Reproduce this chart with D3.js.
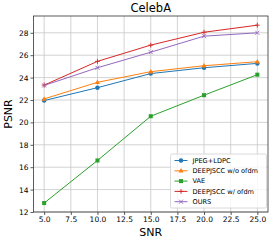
<!DOCTYPE html>
<html><head><meta charset="utf-8">
<script src="https://cdn.jsdelivr.net/npm/d3@7"></script>
<style>body{margin:0;background:#fff}svg{display:block}text{font-family:"DejaVu Sans",sans-serif;fill:#000}</style>
</head><body><div id="chart"></div>
<script>
const snr = [5, 10, 15, 20, 25];
const jpegLdpc = [21.95, 23.1, 24.36, 24.88, 25.27];
const deepNoOfdm = [22.1, 23.58, 24.53, 25.06, 25.42];
const vae = [12.8, 16.6, 20.55, 22.43, 24.26];
const deepOfdm = [23.33, 25.45, 26.9, 28.05, 28.68];
const ours = [23.3, 24.88, 26.27, 27.7, 28.0];
const xTicks = [5, 7.5, 10, 12.5, 15, 17.5, 20, 22.5, 25];
const yTicks = [12, 14, 16, 18, 20, 22, 24, 26, 28];
const seriesNames = ["JPEG+LDPC", "DEEPJSCC w/o ofdm", "VAE", "DEEPJSCC w/ ofdm", "OURS"];
const seriesData = [jpegLdpc, deepNoOfdm, vae, deepOfdm, ours];
const colors = ["#1f77b4", "#ff7f0e", "#2ca02c", "#d62728", "#9467bd"];
const markers = ["circle", "triangle", "square", "plus", "x"];

const W = 277, H = 240;
const m = {l: 33.5, r: 9, t: 16, b: 28};
const svg = d3.select("#chart").append("svg").attr("width", W).attr("height", H);
const x = d3.scaleLinear().domain([4, 26]).range([m.l, W - m.r]);
const y = d3.scaleLinear().domain([12, 29.5]).range([H - m.b, m.t]);

// grid
const g = svg.append("g");
xTicks.forEach(t => g.append("line").attr("x1", x(t)).attr("x2", x(t)).attr("y1", m.t).attr("y2", H - m.b).attr("stroke", "#c8c8c8").attr("stroke-width", 0.8));
yTicks.forEach(t => g.append("line").attr("y1", y(t)).attr("y2", y(t)).attr("x1", m.l).attr("x2", W - m.r).attr("stroke", "#c8c8c8").attr("stroke-width", 0.8));

// axes
const xAxis = d3.axisBottom(x).tickValues(xTicks).tickFormat(d3.format(".1f")).tickSize(3).tickPadding(2);
const yAxis = d3.axisLeft(y).tickValues(yTicks).tickFormat(d3.format("d")).tickSize(3).tickPadding(2);
const gx = svg.append("g").attr("transform", `translate(0,${H - m.b})`).call(xAxis);
const gy = svg.append("g").attr("transform", `translate(${m.l},0)`).call(yAxis);
[gx, gy].forEach(a => {
  a.select(".domain").remove();
  a.selectAll("line").attr("stroke", "#333").attr("stroke-width", 0.8);
  a.selectAll("text").attr("font-size", 7.5).attr("font-family", "DejaVu Sans").attr("fill", "#000");
});

function drawMarker(sel, type, cx, cy, color, s) {
  if (type === "circle") sel.append("circle").attr("cx", cx).attr("cy", cy).attr("r", s * 0.5).attr("fill", color);
  else if (type === "square") sel.append("rect").attr("x", cx - s * 0.45).attr("y", cy - s * 0.45).attr("width", s * 0.9).attr("height", s * 0.9).attr("fill", color);
  else if (type === "triangle") sel.append("path").attr("d", `M${cx},${cy - s * 0.6}L${cx + s * 0.55},${cy + s * 0.4}L${cx - s * 0.55},${cy + s * 0.4}Z`).attr("fill", color);
  else if (type === "plus") sel.append("path").attr("d", `M${cx - s * 0.55},${cy}H${cx + s * 0.55}M${cx},${cy - s * 0.55}V${cy + s * 0.55}`).attr("stroke", color).attr("stroke-width", 0.9);
  else if (type === "x") sel.append("path").attr("d", `M${cx - s * 0.45},${cy - s * 0.45}L${cx + s * 0.45},${cy + s * 0.45}M${cx - s * 0.45},${cy + s * 0.45}L${cx + s * 0.45},${cy - s * 0.45}`).attr("stroke", color).attr("stroke-width", 0.9);
}

const line = d3.line().x(d => x(d[0])).y(d => y(d[1]));
seriesData.forEach((vals, i) => {
  const pts = snr.map((s, j) => [s, vals[j]]);
  const sg = svg.append("g");
  sg.append("path").attr("d", line(pts)).attr("fill", "none").attr("stroke", colors[i]).attr("stroke-width", 1);
  pts.forEach(p => drawMarker(sg, markers[i], x(p[0]), y(p[1]), colors[i], 4.5));
});

// frame
svg.append("rect").attr("x", m.l).attr("y", m.t).attr("width", W - m.r - m.l).attr("height", H - m.b - m.t).attr("fill", "none").attr("stroke", "#333").attr("stroke-width", 0.8);

// legend
const lx = 170.5, ly = 154, lw = 96, lh = 54;
const lg = svg.append("g");
lg.append("rect").attr("x", lx).attr("y", ly).attr("width", lw).attr("height", lh).attr("rx", 1.5).attr("fill", "#fff").attr("fill-opacity", 0.8).attr("stroke", "#d0d0d0").attr("stroke-width", 0.8);
seriesNames.forEach((n, i) => {
  const yy = ly + 6.5 + i * 10.3;
  lg.append("line").attr("x1", lx + 4).attr("x2", lx + 17).attr("y1", yy).attr("y2", yy).attr("stroke", colors[i]).attr("stroke-width", 1);
  drawMarker(lg, markers[i], lx + 10.5, yy, colors[i], 4.5);
  lg.append("text").attr("x", lx + 22).attr("y", yy).attr("dy", "0.35em").attr("font-size", 6.6).text(n);
});

// labels
svg.append("text").attr("x", (m.l + W - m.r) / 2).attr("y", 11.5).attr("text-anchor", "middle").attr("font-size", 11.5).text("CelebA");
svg.append("text").attr("x", (m.l + W - m.r) / 2).attr("y", 236).attr("text-anchor", "middle").attr("font-size", 11).text("SNR");
svg.append("text").attr("transform", `translate(12,${(m.t + H - m.b) / 2}) rotate(-90)`).attr("text-anchor", "middle").attr("font-size", 11).text("PSNR");
</script></body></html>
